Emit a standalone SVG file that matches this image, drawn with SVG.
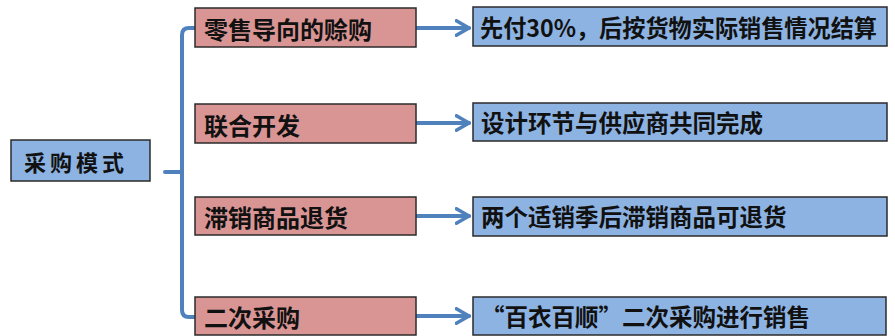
<svg xmlns="http://www.w3.org/2000/svg" width="895" height="336" viewBox="0 0 895 336">
<style>
.pink{fill:#d99594;stroke:#2b2b2b;stroke-width:1.5}
.blue{fill:#8db3e2;stroke:#2b2b2b;stroke-width:1.5}
.t{font-family:"Noto Sans CJK SC","Liberation Sans",sans-serif;font-size:24px;font-weight:bold;fill:#111;dominant-baseline:central}
.tb{font-family:"Noto Sans CJK SC","Liberation Sans",sans-serif;font-size:23.5px;font-weight:bold;fill:#111;dominant-baseline:central}
.lt{font-family:"Noto Sans CJK SC","Liberation Serif",serif;font-size:22px;font-weight:bold;fill:#111;dominant-baseline:central;letter-spacing:4px}
.ln{fill:none;stroke:#4f81bd;stroke-width:4;stroke-linecap:round;stroke-linejoin:round}
</style>
<defs>
<marker id="ah" viewBox="0 0 10 10" refX="8" refY="5" markerWidth="4.5" markerHeight="4.5" orient="auto" markerUnits="strokeWidth">
<path d="M1,1 L8,5 L1,9" fill="none" stroke="#4f81bd" stroke-width="2" stroke-linecap="round" stroke-linejoin="round"/>
</marker>
</defs>
<rect width="895" height="336" fill="#ffffff"/>
<g id="connectors">
<path class="ln" d="M165,172 H182"/>
<path class="ln" d="M195,28 H189 Q182,28 182,35 V310 Q182,317 189,317 H195"/>
<path class="ln" d="M417,28 H469" marker-end="url(#ah)"/>
<path class="ln" d="M417,123 H469" marker-end="url(#ah)"/>
<path class="ln" d="M417,216 H469" marker-end="url(#ah)"/>
<path class="ln" d="M417,316 H469" marker-end="url(#ah)"/>
</g>
<g id="root">
<rect class="blue" x="11" y="140" width="139" height="41"/>
<text class="lt" x="24" y="161">采购模式</text>
</g>
<g id="n1">
<rect class="pink" x="195" y="8" width="221" height="39"/>
<text class="t" x="204" y="28">零售导向的赊购</text>
</g>
<g id="n2">
<rect class="pink" x="195" y="104" width="221" height="39"/>
<text class="t" x="204" y="124">联合开发</text>
</g>
<g id="n3">
<rect class="pink" x="195" y="197" width="221" height="38"/>
<text class="t" x="204" y="216">滞销商品退货</text>
</g>
<g id="n4">
<rect class="pink" x="195" y="297" width="221" height="38"/>
<text class="t" x="204" y="316">二次采购</text>
</g>
<g id="d1">
<rect class="blue" x="473" y="7" width="414" height="39"/>
<text class="tb" x="480" y="27" textLength="397" lengthAdjust="spacingAndGlyphs">先付30%，后按货物实际销售情况结算</text>
</g>
<g id="d2">
<rect class="blue" x="473" y="103" width="414" height="38"/>
<text class="tb" x="481" y="122">设计环节与供应商共同完成</text>
</g>
<g id="d3">
<rect class="blue" x="473" y="197" width="414" height="39"/>
<text class="tb" x="481" y="216">两个适销季后滞销商品可退货</text>
</g>
<g id="d4">
<rect class="blue" x="473" y="297" width="413" height="38"/>
<text class="tb" x="481" y="316">“百衣百顺”二次采购进行销售</text>
</g>
</svg>
